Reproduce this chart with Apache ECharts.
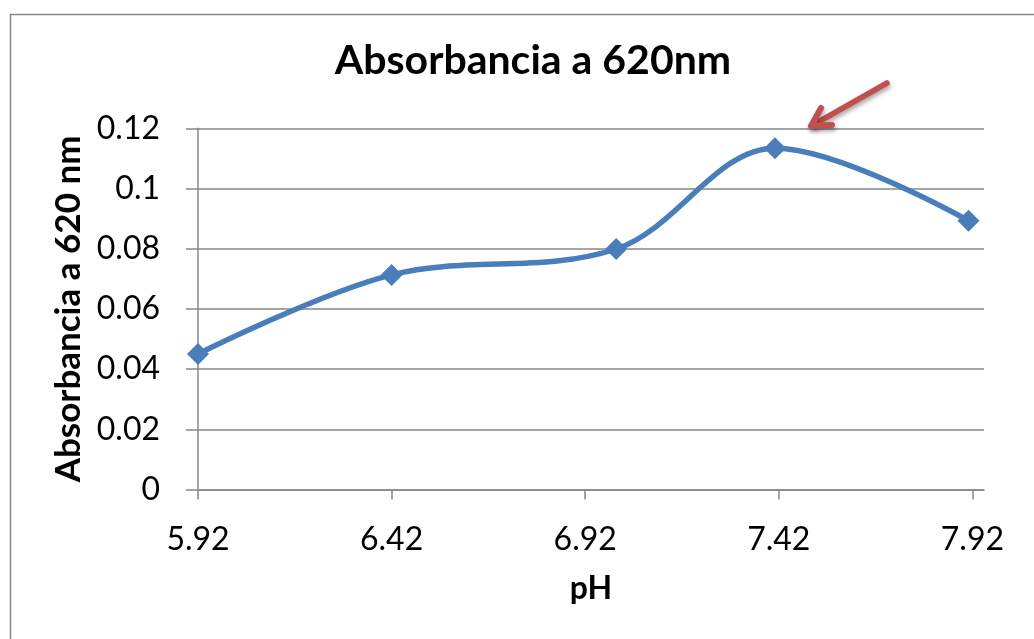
<!DOCTYPE html>
<html>
<head>
<meta charset="utf-8">
<script src="https://cdn.jsdelivr.net/npm/echarts@6/dist/echarts.min.js"></script>
<style>
html,body{margin:0;padding:0;background:#fff;}
#c{width:1034px;height:639px;}
</style>
</head>
<body>
<div id="c"></div>
<script>
// ---- data ----
var titleText = 'Absorbancia a 620nm';
var xName = 'pH';
var yName = 'Absorbancia a 620 nm';
var phValues = [5.92, 6.42, 7.0, 7.41, 7.91];
var absorbance = [0.045, 0.0713, 0.0799, 0.1134, 0.0893];
var xTickLabels = [5.92, 6.42, 6.92, 7.42, 7.92];

var FONT = 'Lato';
var GRAY = '#878787';

var chart = echarts.init(document.getElementById('c'), null, {renderer: 'canvas'});
var seriesData = phValues.map(function (p, i) { return [p, absorbance[i]]; });

chart.setOption({
  backgroundColor: '#ffffff',
  animation: false,
  title: {
    text: titleText,
    left: 528,
    textAlign: 'center',
    top: 35,
    textStyle: {fontFamily: FONT, fontSize: 41, fontWeight: 'bold', color: '#000'}
  },
  grid: {left: 198, right: 50, top: 128.3, bottom: 149.5, containLabel: false},
  xAxis: {
    type: 'value',
    min: 5.92,
    max: 7.95,
    interval: 0.5,
    name: xName,
    nameLocation: 'middle',
    nameGap: 83,
    nameTextStyle: {fontFamily: FONT, fontSize: 32, fontWeight: 'bold', color: '#000'},
    axisLine: {show: true, lineStyle: {color: GRAY, width: 1.5}},
    axisTick: {show: true, customValues: xTickLabels, length: 10, inside: false, lineStyle: {color: GRAY, width: 1.5}},
    axisLabel: {
      customValues: xTickLabels,
      margin: 34,
      fontFamily: FONT, fontSize: 32, color: '#000',
      formatter: function (v) { return Number(v).toFixed(2); }
    },
    splitLine: {show: false}
  },
  yAxis: {
    type: 'value',
    min: 0,
    max: 0.12,
    interval: 0.02,
    name: yName,
    nameLocation: 'middle',
    nameGap: 110,
    nameTextStyle: {fontFamily: FONT, fontSize: 35, fontWeight: 'bold', color: '#000'},
    axisLine: {show: true, lineStyle: {color: GRAY, width: 1.5}},
    axisTick: {show: true, length: 12, inside: false, lineStyle: {color: GRAY, width: 1.5}},
    axisLabel: {
      margin: 38,
      fontFamily: FONT, fontSize: 32, color: '#000',
      formatter: function (v) { return String(Math.round(v * 100) / 100); }
    },
    splitLine: {show: true, lineStyle: {color: GRAY, width: 1.5}}
  },
  series: [{
    type: 'line',
    data: seriesData,
    smooth: 0.35,
    symbol: 'diamond',
    symbolSize: 22,
    itemStyle: {color: '#4A7EBB'},
    lineStyle: {color: '#4A7EBB', width: 5.5},
    z: 3
  }],
  graphic: [
    {
      type: 'rect',
      shape: {x: 10.5, y: 14.5, width: 1200, height: 800},
      style: {fill: 'none', stroke: GRAY, lineWidth: 1.5},
      silent: true,
      z: 1
    },
    {
      type: 'polyline',
      shape: {points: [[887, 83], [813, 125]]},
      style: {stroke: '#C0504D', lineWidth: 5.5, lineCap: 'round', shadowBlur: 4, shadowOffsetX: 1, shadowOffsetY: 3, shadowColor: 'rgba(0,0,0,0.35)'},
      z: 10
    },
    {
      type: 'polyline',
      shape: {points: [[821, 108], [811, 126], [832, 125]]},
      style: {stroke: '#C0504D', lineWidth: 6, lineCap: 'round', lineJoin: 'round', fill: 'none', shadowBlur: 4, shadowOffsetX: 1, shadowOffsetY: 3, shadowColor: 'rgba(0,0,0,0.35)'},
      z: 10
    }
  ]
});
</script>
</body>
</html>
